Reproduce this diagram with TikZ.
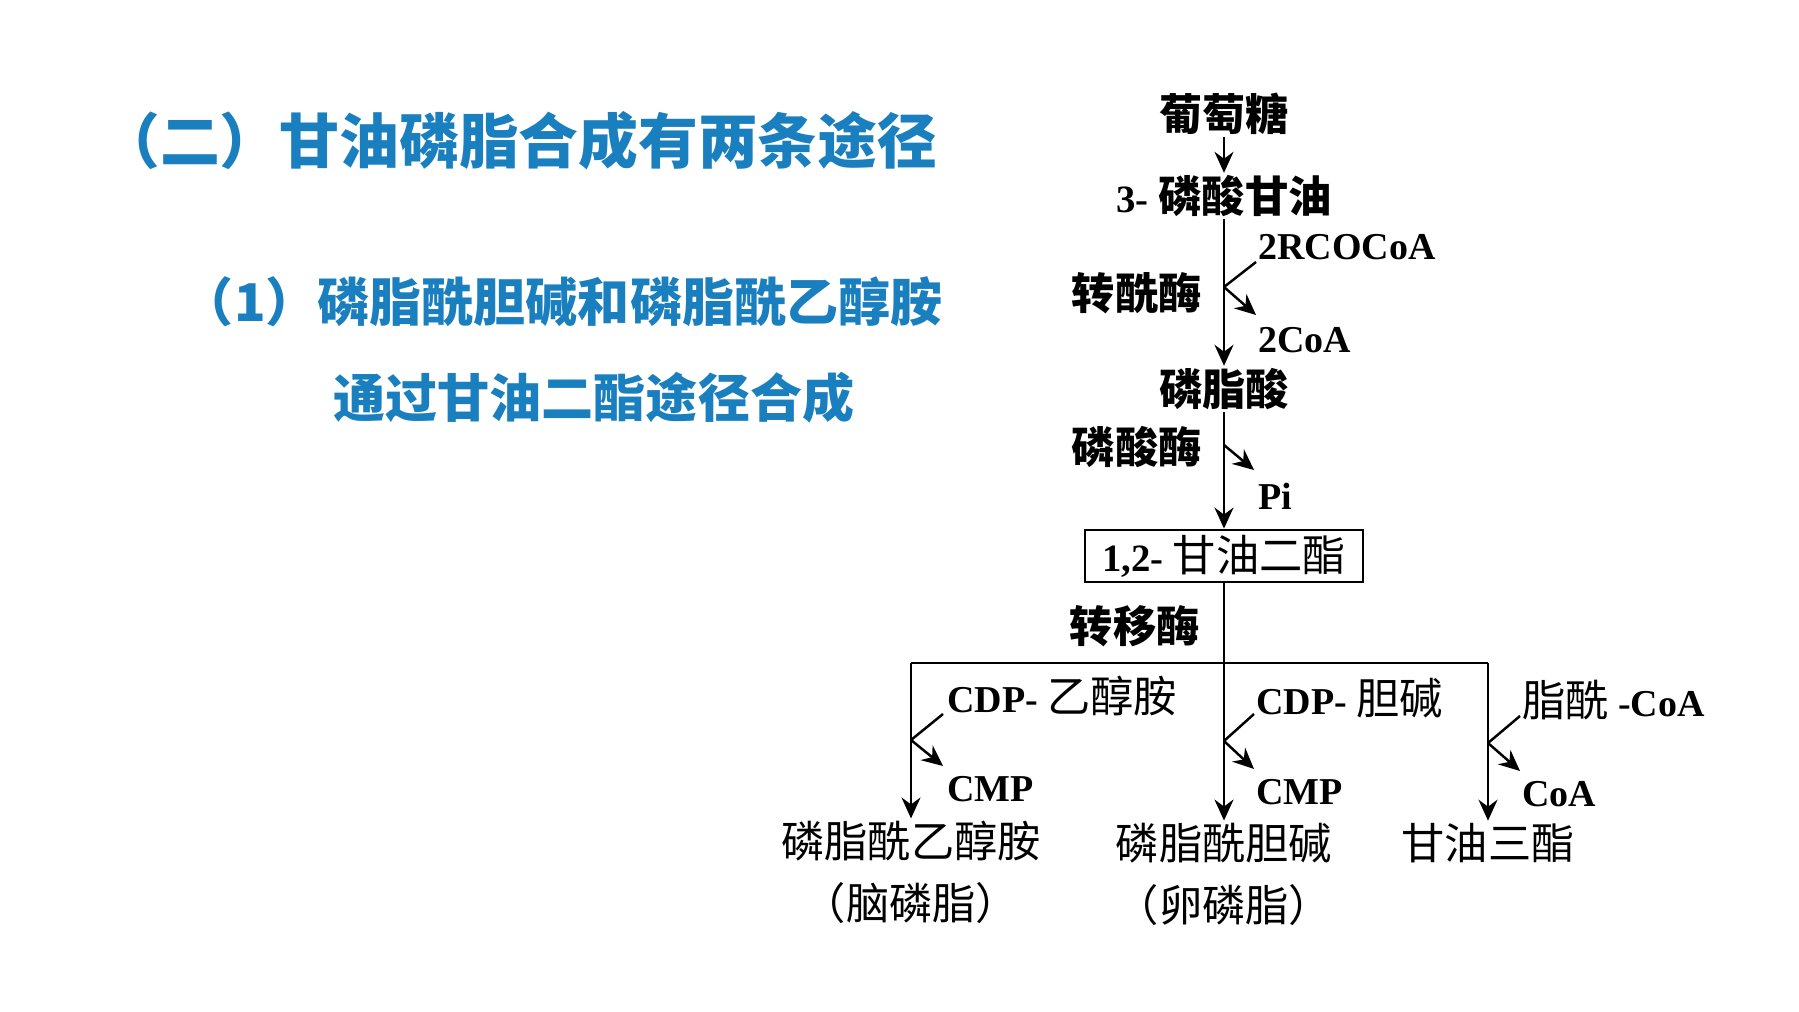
\documentclass[tikz,border=0pt]{standalone}
\usepackage{fontspec}
\setmainfont{Liberation Serif}
\newfontfamily\cjk{Noto Sans CJK SC}
\usepackage{tikz}
\usetikzlibrary{arrows.meta,positioning}
\definecolor{titleblue}{HTML}{1A7FBF}
\newcommand{\latn}[1]{{\rmfamily\bfseries\fontsize{11}{13}\selectfont #1}}
\newcommand{\zhtext}[1]{{\cjk\mdseries\fontsize{12.3}{14}\selectfont #1}}

\begin{document}
\begin{tikzpicture}[x=0.01cm,y=-0.01cm,
  heading/.style={anchor=east,inner sep=0pt,text=titleblue,font=\cjk\bfseries\fontsize{17}{20}\selectfont},
  subhead/.style={inner sep=0pt,text=titleblue,font=\cjk\bfseries\fontsize{14.8}{18}\selectfont},
  chem/.style={inner sep=0.5pt,font=\cjk\fontsize{12.3}{14}\selectfont},
  boldchem/.style={chem,font=\cjk\bfseries\fontsize{12.3}{14}\selectfont},
  enz/.style={boldchem,anchor=east},
  side/.style={anchor=west,inner sep=1pt,font=\rmfamily\bfseries\fontsize{10.8}{13}\selectfont},
  dagbox/.style={chem,draw,line width=0.8pt,minimum width=2.78cm,minimum height=0.52cm},
  link/.style={line width=0.7pt},
  arr/.style={link,-{Stealth[length=2.1mm,width=1.9mm,inset=0.7mm]}}
]
\useasboundingbox (0,0) rectangle (1799,1012);
\node[heading] (title) at (938,141) {（二）甘油磷脂合成有两条途径};
\node[subhead,anchor=east] (sub1) at (943,302) {（1）磷脂酰胆碱和磷脂酰乙醇胺};
\node[subhead,anchor=west] (sub2) at (333,398) {通过甘油二酯途径合成};

\node[boldchem] (glc) at (1224,114) {葡萄糖};
\node[boldchem] (g3p) at (1224,196) {\latn{3-} 磷酸甘油};
\node[side] (rcoa) at (1254,247) {2RCOCoA};
\node[enz] (acyl) at (1204,293) {转酰酶};
\node[side] (coa1) at (1254,340) {2CoA};
\node[boldchem] (pa) at (1224,389) {磷脂酸};
\node[enz] (phos) at (1204,447) {磷酸酶};
\node[side] (pi) at (1254,496) {Pi};
\node[dagbox] (dag) at (1224,556) {\latn{1,2-} 甘油二酯};
\node[enz] (trans) at (1202,626) {转移酶};
\node[side] (cdpe) at (943,696) {CDP- \zhtext{乙醇胺}};
\node[side] (cmp1) at (943,789) {CMP};
\node[side] (cdpc) at (1252,698) {CDP- \zhtext{胆碱}};
\node[side] (cmp2) at (1252,792) {CMP};
\node[side] (acoa) at (1518,700) {\zhtext{脂酰} -CoA};
\node[side] (coa2) at (1518,794) {CoA};
\node[chem] (pe) at (911,841) {磷脂酰乙醇胺};
\node[chem] (pen) at (911,903) {（脑磷脂）};
\node[chem] (pc) at (1224,843) {磷脂酰胆碱};
\node[chem] (pcn) at (1224,905) {（卵磷脂）};
\node[chem] (tag) at (1488,843) {甘油三酯};

\coordinate (bar) at (1224,663);
\coordinate (j1) at (1224,287); \coordinate (j1in) at (1256,262); \coordinate (j1out) at (1256,315);
\coordinate (j2) at (1224,445); \coordinate (j2out) at (1254,470);
\coordinate (j3) at (911,740); \coordinate (j3in) at (943,714); \coordinate (j3out) at (943,766);
\coordinate (j4) at (1224,741); \coordinate (j4in) at (1254,714); \coordinate (j4out) at (1254,769);
\coordinate (j5) at (1488,743); \coordinate (j5in) at (1520,716); \coordinate (j5out) at (1520,771);

\draw[arr] (glc)--(g3p); \draw[arr] (g3p)--(pa);
\draw[arr] (pa)--(dag); \draw[arr] (dag)--(pc);
\draw[link] (pe |- bar)--(tag |- bar);
\draw[arr] (pe |- bar)--(pe); \draw[arr] (tag |- bar)--(tag);
\draw[link] (j1in)--(j1); \draw[arr] (j1)--(j1out);
\draw[arr] (j2)--(j2out);
\draw[link] (j3in)--(j3); \draw[arr] (j3)--(j3out);
\draw[link] (j4in)--(j4); \draw[arr] (j4)--(j4out);
\draw[link] (j5in)--(j5); \draw[arr] (j5)--(j5out);
\end{tikzpicture}
\end{document}
